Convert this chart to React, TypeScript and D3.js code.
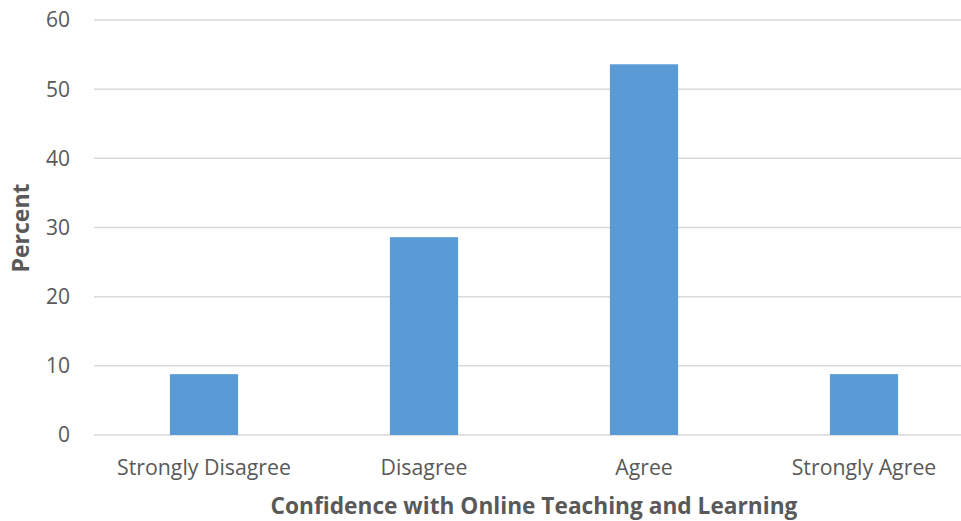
import React from "react";
import * as d3 from "d3";

const categories = ["Strongly Disagree", "Disagree", "Agree", "Strongly Agree"];
const percents = [8.8, 28.6, 53.6, 8.8];
const yTicks = [0, 10, 20, 30, 40, 50, 60];
const xTitle = "Confidence with Online Teaching and Learning";
const yTitle = "Percent";

export default function App() {
  const W = 961, H = 521;
  const x = d3.scaleBand<string>().domain(categories).range([94, 974]).paddingInner(0.69).paddingOuter(0.345);
  const y = d3.scaleLinear().domain([0, 60]).range([435, 20]);
  const font = "'Open Sans', sans-serif";
  const textColor = "#595959";
  return (
    <svg width={W} height={H} style={{ position: "absolute", left: 0, top: 0, background: "#fff" }}>
      {yTicks.map((t) => (
        <g key={t}>
          <line x1={94} x2={974} y1={y(t)} y2={y(t)} stroke="#d9d9d9" strokeWidth={1.5} />
          <text x={70} y={y(t)} dy="0.35em" textAnchor="end" fontFamily={font} fontSize={21} fill={textColor}>{t}</text>
        </g>
      ))}
      {categories.map((c, i) => (
        <rect key={c} x={x(c)} y={y(percents[i])} width={x.bandwidth()} height={y(0) - y(percents[i])} fill="#5b9bd5" />
      ))}
      {categories.map((c) => (
        <text key={c} x={(x(c) as number) + x.bandwidth() / 2} y={475} textAnchor="middle" fontFamily={font} fontSize={21.3} fill={textColor}>{c}</text>
      ))}
      <text x={534} y={514} textAnchor="middle" fontFamily={font} fontSize={22.7} fontWeight="bold" fill={textColor}>{xTitle}</text>
      <text transform={`translate(29,228) rotate(-90)`} textAnchor="middle" fontFamily={font} fontSize={23} fontWeight="bold" fill={textColor}>{yTitle}</text>
    </svg>
  );
}
